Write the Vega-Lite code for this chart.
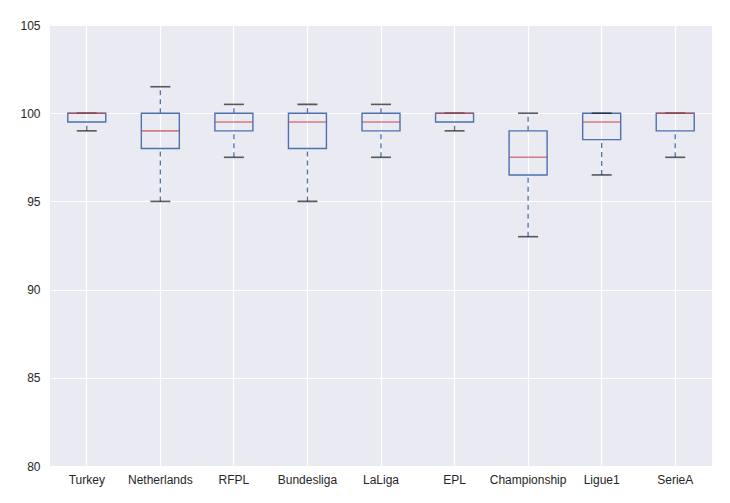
{
  "$schema": "https://vega.github.io/schema/vega-lite/v6.json",
  "width": 662,
  "height": 441,
  "autosize": {"type": "none"},
  "padding": {"left": 50, "top": 25, "right": 18, "bottom": 37},
  "background": "white",
  "config": {
    "view": {"fill": "#EAEAF2", "stroke": null},
    "axis": {"labelFont": "Liberation Sans", "labelFontSize": 12, "labelColor": "#262626", "domain": false, "ticks": false, "grid": true, "gridColor": "white", "gridWidth": 1.2, "title": null}
  },
  "data": {
    "values": [
      {"league": "Turkey", "lo": 99, "q1": 99.5, "med": 100, "q3": 100, "hi": 100},
      {"league": "Netherlands", "lo": 95, "q1": 98, "med": 99, "q3": 100, "hi": 101.5},
      {"league": "RFPL", "lo": 97.5, "q1": 99, "med": 99.5, "q3": 100, "hi": 100.5},
      {"league": "Bundesliga", "lo": 95, "q1": 98, "med": 99.5, "q3": 100, "hi": 100.5},
      {"league": "LaLiga", "lo": 97.5, "q1": 99, "med": 99.5, "q3": 100, "hi": 100.5},
      {"league": "EPL", "lo": 99, "q1": 99.5, "med": 100, "q3": 100, "hi": 100},
      {"league": "Championship", "lo": 93, "q1": 96.5, "med": 97.5, "q3": 99, "hi": 100},
      {"league": "Ligue1", "lo": 96.5, "q1": 98.5, "med": 99.5, "q3": 100, "hi": 100},
      {"league": "SerieA", "lo": 97.5, "q1": 99, "med": 100, "q3": 100, "hi": 100}
    ]
  },
  "encoding": {
    "x": {"field": "league", "type": "nominal", "sort": null,
      "scale": {"type": "band", "paddingInner": 0, "paddingOuter": 0},
      "axis": {"labelAngle": 0, "labelPadding": 8, "bandPosition": 0.5}}
  },
  "layer": [
    {
      "mark": {"type": "rule", "color": "#4C72B0", "strokeWidth": 1.3, "strokeDash": [5, 4]},
      "encoding": {
        "y": {"field": "lo", "type": "quantitative", "scale": {"domain": [80, 105], "nice": false, "zero": false},
          "axis": {"values": [80, 85, 90, 95, 100, 105], "labelPadding": 10}},
        "y2": {"field": "q1"}
      }
    },
    {
      "mark": {"type": "rule", "color": "#4C72B0", "strokeWidth": 1.3, "strokeDash": [5, 4]},
      "encoding": {
        "y": {"field": "q3", "type": "quantitative"},
        "y2": {"field": "hi"}
      }
    },
    {
      "mark": {"type": "bar", "fill": "#EAEAF2", "fillOpacity": 0, "stroke": "#4C72B0", "strokeWidth": 1.4, "width": 38},
      "encoding": {
        "y": {"field": "q1", "type": "quantitative"},
        "y2": {"field": "q3"}
      }
    },
    {
      "mark": {"type": "tick", "color": "#1a1a1a", "size": 20, "thickness": 1.6},
      "encoding": {
        "y": {"field": "lo", "type": "quantitative"}
      }
    },
    {
      "mark": {"type": "tick", "color": "#1a1a1a", "size": 20, "thickness": 1.6},
      "encoding": {
        "y": {"field": "hi", "type": "quantitative"}
      }
    },
    {
      "mark": {"type": "tick", "color": "#C44E52", "size": 38, "thickness": 1.6},
      "encoding": {
        "y": {"field": "med", "type": "quantitative"}
      }
    }
  ]
}
